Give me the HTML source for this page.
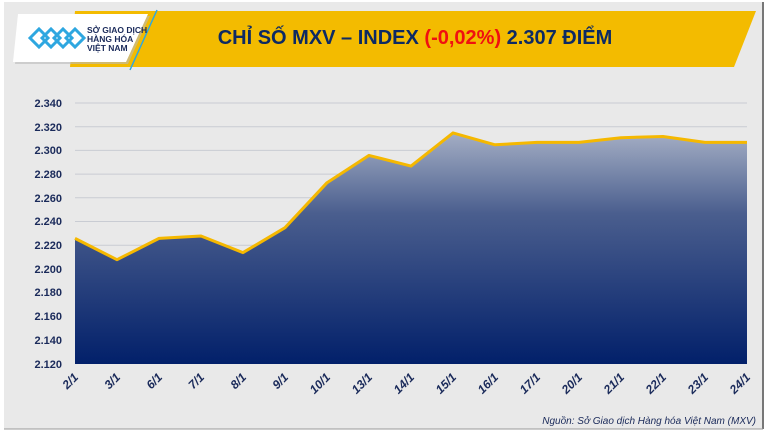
<!DOCTYPE html>
<html><head><meta charset="utf-8"><style>
html,body{margin:0;padding:0;background:#fff}
svg{display:block}
text{font-family:"Liberation Sans",sans-serif}
</style></head><body>
<svg width="770" height="433" viewBox="0 0 770 433" xmlns="http://www.w3.org/2000/svg">
<defs>
<linearGradient id="ar" x1="0" y1="0" x2="0" y2="1">
<stop offset="0" stop-color="#a4aec4"/>
<stop offset="0.35" stop-color="#4a5e8e"/>
<stop offset="1" stop-color="#02206a"/>
</linearGradient>
</defs>
<rect x="0" y="0" width="770" height="433" fill="#ffffff"/>
<rect x="4" y="2" width="759" height="427" fill="#e9e9e9"/>
<line x1="763" y1="2" x2="763" y2="429" stroke="#777" stroke-width="2"/>
<line x1="4" y1="429" x2="763" y2="429" stroke="#999" stroke-width="1"/>
<polygon points="75,11 756,11 734,67 70,67" fill="#f3bb00"/>
<polygon points="20,16 150,16 128,64 15,64" fill="#bbb" opacity="0.6"/>
<polygon points="18,14 148,14 126,62 13,62" fill="#fff"/>
<line x1="157" y1="10" x2="130" y2="70" stroke="#2ea7e0" stroke-width="1.5"/>
<g fill="none" stroke="#2ea7e0" stroke-width="3">
<path d="M30,38 l9,-9 l9,9 l-9,9 z"/>
<path d="M42,38 l9,-9 l9,9 l-9,9 z"/>
<path d="M54,38 l9,-9 l9,9 l-9,9 z"/>
<path d="M66,38 l9,-9 l9,9 l-9,9 z"/>
</g>
<text x="87" y="33" font-size="8.5" font-weight="bold" fill="#1a2a5a">SỞ GIAO DỊCH</text>
<text x="87" y="42" font-size="8.5" font-weight="bold" fill="#1a2a5a">HÀNG HÓA</text>
<text x="87" y="51" font-size="8.5" font-weight="bold" fill="#1a2a5a">VIỆT NAM</text>
<text x="415" y="44" font-size="20" font-weight="bold" fill="#0d2a63" text-anchor="middle">CHỈ SỐ MXV – INDEX <tspan fill="#f01010">(-0,02%)</tspan> 2.307 ĐIỂM</text>
<g stroke="#c9ccd3" stroke-width="1">
<line x1="75" y1="103" x2="747" y2="103"/><line x1="75" y1="126.7" x2="747" y2="126.7"/>
<line x1="75" y1="150.4" x2="747" y2="150.4"/><line x1="75" y1="174.1" x2="747" y2="174.1"/>
<line x1="75" y1="197.8" x2="747" y2="197.8"/><line x1="75" y1="221.5" x2="747" y2="221.5"/>
<line x1="75" y1="245.2" x2="747" y2="245.2"/><line x1="75" y1="268.9" x2="747" y2="268.9"/>
<line x1="75" y1="292.6" x2="747" y2="292.6"/><line x1="75" y1="316.3" x2="747" y2="316.3"/>
<line x1="75" y1="340" x2="747" y2="340"/>
</g>
<polygon fill="url(#ar)" points="75,364 75,238.4 117,259.7 159,238.4 201,236 243,252.6 285,227.7 327,182.7 369,155.4 411,166.1 453,132.9 495,144.8 537,142.4 579,142.4 621,137.7 663,136.5 705,142.4 747,142.4 747,364"/>
<polyline fill="none" stroke="#f5b800" stroke-width="3" stroke-linejoin="round" points="75,238.4 117,259.7 159,238.4 201,236 243,252.6 285,227.7 327,182.7 369,155.4 411,166.1 453,132.9 495,144.8 537,142.4 579,142.4 621,137.7 663,136.5 705,142.4 747,142.4"/>
<g font-size="11" font-weight="bold" fill="#1a2a5a" text-anchor="end">
<text x="62" y="107">2.340</text><text x="62" y="131">2.320</text><text x="62" y="154">2.300</text>
<text x="62" y="178">2.280</text><text x="62" y="202">2.260</text><text x="62" y="225">2.240</text>
<text x="62" y="249">2.220</text><text x="62" y="273">2.200</text><text x="62" y="296">2.180</text>
<text x="62" y="320">2.160</text><text x="62" y="344">2.140</text><text x="62" y="368">2.120</text>
</g>
<g font-size="12" font-weight="bold" font-style="italic" fill="#1a2a5a" text-anchor="end">
<text transform="translate(79,378) rotate(-45)">2/1</text>
<text transform="translate(121,378) rotate(-45)">3/1</text>
<text transform="translate(163,378) rotate(-45)">6/1</text>
<text transform="translate(205,378) rotate(-45)">7/1</text>
<text transform="translate(247,378) rotate(-45)">8/1</text>
<text transform="translate(289,378) rotate(-45)">9/1</text>
<text transform="translate(331,378) rotate(-45)">10/1</text>
<text transform="translate(373,378) rotate(-45)">13/1</text>
<text transform="translate(415,378) rotate(-45)">14/1</text>
<text transform="translate(457,378) rotate(-45)">15/1</text>
<text transform="translate(499,378) rotate(-45)">16/1</text>
<text transform="translate(541,378) rotate(-45)">17/1</text>
<text transform="translate(583,378) rotate(-45)">20/1</text>
<text transform="translate(625,378) rotate(-45)">21/1</text>
<text transform="translate(667,378) rotate(-45)">22/1</text>
<text transform="translate(709,378) rotate(-45)">23/1</text>
<text transform="translate(751,378) rotate(-45)">24/1</text>
</g>
<text x="756" y="424" font-size="10" font-style="italic" fill="#1a2a5a" text-anchor="end">Nguồn: Sở Giao dịch Hàng hóa Việt Nam (MXV)</text>
</svg>
</body></html>
